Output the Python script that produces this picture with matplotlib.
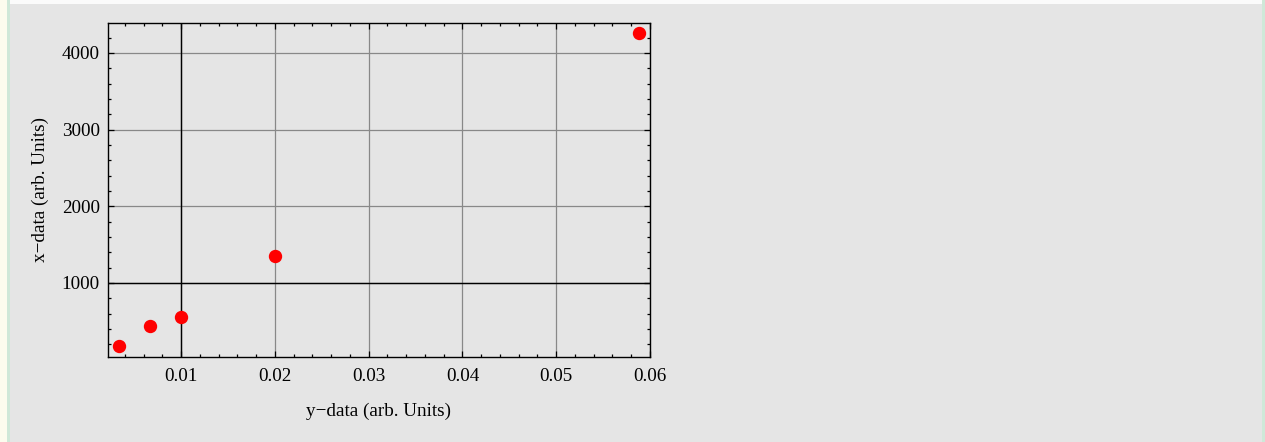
import matplotlib
matplotlib.use("Agg")
import matplotlib.pyplot as plt
from matplotlib.patches import Rectangle
from matplotlib.ticker import MultipleLocator

# measured values
y_data = [0.0034, 0.0067, 0.0100, 0.0200, 0.0588]
x_data = [170, 440, 557, 1352, 4265]
x_ticks = [0.01, 0.02, 0.03, 0.04, 0.05, 0.06]
y_ticks = [1000, 2000, 3000, 4000]

plt.rcParams['font.family'] = ['Liberation Serif', 'DejaVu Serif']

bg = '#e5e5e5'
W, H = 1265, 442
fig = plt.figure(figsize=(W / 100, H / 100), dpi=100)
fig.patch.set_facecolor(bg)

# frame strips around the panel
fig.patches.append(Rectangle((0, 1 - 4 / H), 1, 4 / H, transform=fig.transFigure,
                             facecolor='#fbfbfb', edgecolor='none', zorder=0))
fig.patches.append(Rectangle((0, 0), 7 / W, 1, transform=fig.transFigure,
                             facecolor='#fcfcee', edgecolor='none', zorder=0))
fig.patches.append(Rectangle((7 / W, 0), 3 / W, 1, transform=fig.transFigure,
                             facecolor='#cfe8d8', edgecolor='none', zorder=0))
fig.patches.append(Rectangle((1 - 3 / W, 0), 3 / W, 1, transform=fig.transFigure,
                             facecolor='#cfe8d8', edgecolor='none', zorder=0))

ax = fig.add_axes([108 / W, (H - 356.5) / H, (650 - 108) / W, (356.5 - 22.7) / H])
ax.set_facecolor(bg)

ax.set_xlim(0.0022, 0.06)
ax.set_ylim(39, 4395)

# grid lines, with the black axes crossing at (0.01, 1000)
for xv in x_ticks:
    ax.axvline(xv, color='#888888', lw=0.9, zorder=1)
for yv in y_ticks:
    ax.axhline(yv, color='#888888', lw=0.9, zorder=1)
ax.axvline(0.01, color='black', lw=1.0, zorder=2)
ax.axhline(1000, color='black', lw=1.0, zorder=2)

ax.plot(y_data, x_data, 'o', color='#ff0000', markersize=8.6, zorder=5, clip_on=False)

ax.set_xticks(x_ticks)
ax.set_xticklabels(['0.01', '0.02', '0.03', '0.04', '0.05', '0.06'])
ax.set_yticks(y_ticks)
ax.xaxis.set_minor_locator(MultipleLocator(0.002))
ax.yaxis.set_minor_locator(MultipleLocator(200))
ax.tick_params(which='both', direction='in', top=True, right=True,
               colors='black', labelsize=13.8, width=0.9)
ax.tick_params(which='major', length=4.5)
ax.tick_params(axis='x', which='major', pad=8)
ax.tick_params(axis='y', which='major', pad=6)
ax.tick_params(which='minor', length=2.3)
for s in ax.spines.values():
    s.set_linewidth(1.0)
    s.set_color('black')

ax.set_xlabel('y\u2212data (arb. Units)', fontsize=13.8, labelpad=13)
ax.set_ylabel('x\u2212data (arb. Units)', fontsize=13.8, labelpad=9)

fig.savefig('out.png', dpi=100, facecolor=fig.get_facecolor())
